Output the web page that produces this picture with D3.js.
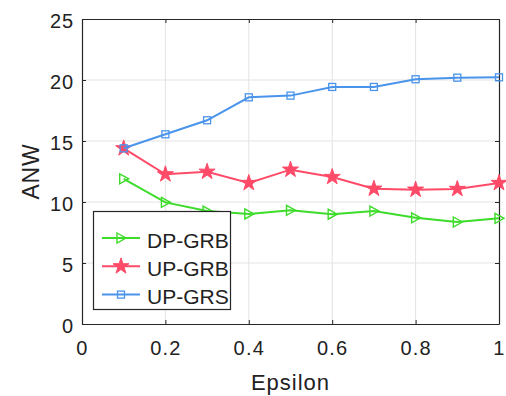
<html>
<head>
<meta charset="utf-8">
<script src="https://d3js.org/d3.v7.min.js"></script>
<style>
  body { margin: 0; background: #fff; }
  text { font-family: "Liberation Sans", Arial, sans-serif; fill: #222; }
</style>
</head>
<body>
<svg width="506" height="396"></svg>
<script>
var epsilon = [0.1, 0.2, 0.3, 0.4, 0.5, 0.6, 0.7, 0.8, 0.9, 1.0];
var dpGrb = [11.9, 9.97, 9.26, 9.02, 9.32, 9.0, 9.26, 8.7, 8.36, 8.66];
var upGrb = [14.4, 12.27, 12.48, 11.56, 12.65, 12.05, 11.09, 11.01, 11.07, 11.56];
var upGrs = [14.4, 15.55, 16.7, 18.58, 18.72, 19.43, 19.43, 20.06, 20.19, 20.22];
var xTicks = [0, 0.2, 0.4, 0.6, 0.8, 1];
var yTicks = [0, 5, 10, 15, 20, 25];

var series = [
  { name: "DP-GRB", values: dpGrb, color: "#3ddc2a", marker: "tri" },
  { name: "UP-GRB", values: upGrb, color: "#ff4a68", marker: "star" },
  { name: "UP-GRS", values: upGrs, color: "#4a94ec", marker: "square" }
];

var svg = d3.select("svg"),
  margin = { top: 19, right: 7, bottom: 72, left: 82 },
  width = 506 - margin.left - margin.right,
  height = 396 - margin.top - margin.bottom;

var x = d3.scaleLinear().domain([0, 1]).range([margin.left, margin.left + width]);
var y = d3.scaleLinear().domain([0, 25]).range([margin.top + height, margin.top]);

// grid
svg.append("g").selectAll("line").data(xTicks.slice(1, -1)).enter().append("line")
  .attr("x1", function (d) { return x(d); }).attr("x2", function (d) { return x(d); })
  .attr("y1", y(0)).attr("y2", y(25))
  .attr("stroke", "#e3e3e3").attr("stroke-width", 1);
svg.append("g").selectAll("line").data(yTicks.slice(1, -1)).enter().append("line")
  .attr("y1", function (d) { return y(d); }).attr("y2", function (d) { return y(d); })
  .attr("x1", x(0)).attr("x2", x(1))
  .attr("stroke", "#e3e3e3").attr("stroke-width", 1);

// axes (ticks inside, box on)
function styleAxis(g) {
  g.select(".domain").attr("stroke", "#262626").attr("stroke-width", 1.2);
  g.selectAll(".tick line").attr("stroke", "#262626");
  g.selectAll(".tick text").attr("font-size", 20).attr("fill", "#222")
    .attr("letter-spacing", 1.2)
    .attr("font-family", "Liberation Sans, Arial, sans-serif");
}

svg.append("g")
  .attr("transform", "translate(0," + y(0) + ")")
  .call(d3.axisBottom(x).tickValues(xTicks).tickFormat(d3.format("")).tickSizeInner(-4).tickSizeOuter(0).tickPadding(17))
  .call(styleAxis);
svg.append("g")
  .attr("transform", "translate(" + x(0) + ",0)")
  .call(d3.axisLeft(y).tickValues(yTicks).tickSizeInner(-4).tickSizeOuter(0).tickPadding(8))
  .call(styleAxis)
  .selectAll(".tick text").attr("dy", "0.42em").attr("letter-spacing", 0.9);
svg.append("g")
  .attr("transform", "translate(0," + y(25) + ")")
  .call(d3.axisTop(x).tickValues(xTicks).tickFormat("").tickSizeInner(-4).tickSizeOuter(0))
  .call(styleAxis);
svg.append("g")
  .attr("transform", "translate(" + x(1) + ",0)")
  .call(d3.axisRight(y).tickValues(yTicks).tickFormat("").tickSizeInner(-4).tickSizeOuter(0))
  .call(styleAxis);

// axis titles
svg.append("text")
  .attr("x", x(0.5)).attr("y", 390)
  .attr("text-anchor", "middle").attr("font-size", 22).attr("letter-spacing", 1)
  .text("Epsilon");
svg.append("text")
  .attr("transform", "translate(39," + y(12.5) + ") rotate(-90)")
  .attr("text-anchor", "middle").attr("font-size", 23).attr("letter-spacing", 0.8)
  .text("ANW");

var starPath = d3.symbol().type(d3.symbolStar).size(80)();
var triPath = "M-4,-5L5,0L-4,5Z";

function drawMarker(g, type, color) {
  if (type === "tri") {
    g.append("path").attr("d", triPath).attr("fill", "none").attr("stroke", color).attr("stroke-width", 1.4);
  } else if (type === "star") {
    g.append("path").attr("d", starPath).attr("fill", color).attr("stroke", color).attr("stroke-width", 1);
  } else {
    g.append("rect").attr("x", -3.5).attr("y", -3.5).attr("width", 7).attr("height", 7)
      .attr("fill", "none").attr("stroke", color).attr("stroke-width", 1.3);
  }
}

var line = d3.line()
  .x(function (d, i) { return x(epsilon[i]); })
  .y(function (d) { return y(d); });

series.forEach(function (s) {
  svg.append("path").datum(s.values)
    .attr("d", line).attr("fill", "none")
    .attr("stroke", s.color).attr("stroke-width", 2);
  s.values.forEach(function (v, i) {
    var g = svg.append("g").attr("transform", "translate(" + x(epsilon[i]) + "," + y(v) + ")");
    drawMarker(g, s.marker, s.color);
  });
});

// legend
var legend = svg.append("g");
legend.append("rect")
  .attr("x", 93.5).attr("y", 211.5).attr("width", 137).attr("height", 98)
  .attr("fill", "#fff").attr("stroke", "#262626").attr("stroke-width", 1.2);
series.forEach(function (s, i) {
  var ly = 238 + i * 28.3;
  legend.append("line").attr("x1", 102).attr("x2", 140).attr("y1", ly).attr("y2", ly)
    .attr("stroke", s.color).attr("stroke-width", 2);
  var g = legend.append("g").attr("transform", "translate(121," + ly + ")");
  drawMarker(g, s.marker, s.color);
  legend.append("text").attr("x", 147).attr("y", ly + 9.5)
    .attr("font-size", 21).text(s.name);
});
</script>
</body>
</html>
